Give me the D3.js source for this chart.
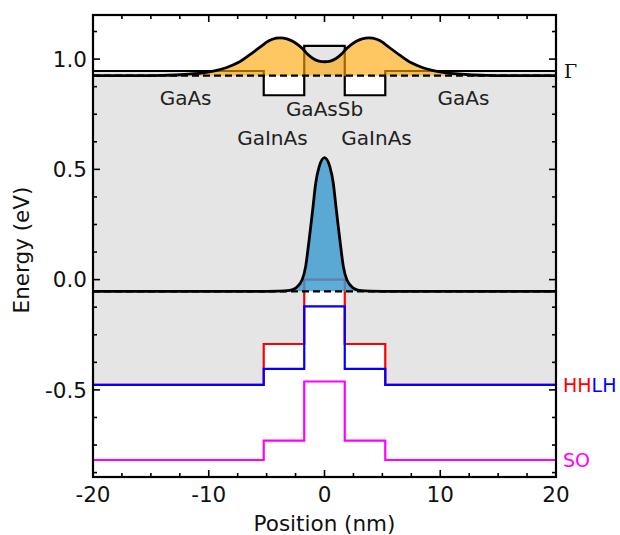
<!DOCTYPE html>
<html>
<head>
<meta charset="utf-8">
<script src="https://cdn.jsdelivr.net/npm/d3@7"></script>
<style>
  body { margin: 0; background: #fff; }
  svg { display: block; }
  text { font-family: "DejaVu Sans", sans-serif; }
</style>
</head>
<body>
<svg id="chart" width="620" height="535"></svg>
<script>
// ---- heterostructure layers (nm) and band edges (eV) ----
const layerEdges = [-20, -5.25, -1.75, 1.75, 5.25, 20];
const bandCB = [0.946, 0.836, 1.060, 0.836, 0.946];
const bandHH = [-0.477, -0.292, 0.000, -0.292, -0.477];
const bandLH = [-0.477, -0.405, -0.121, -0.405, -0.477];
const bandSO = [-0.818, -0.730, -0.462, -0.730, -0.818];

// ---- electron ground state: level and |psi|^2 offset ----
const electronLevel = 0.925;
const electronX = [-20, -16, -14, -12.5, -11.5, -10.5, -9.5, -8.5, -7.5, -6.5, -5.75, -5.25, -5.0, -4.5, -3.85, -3.25, -2.75, -2.25, -1.75, -1.5, -1.0, -0.5, 0,
                   0.5, 1.0, 1.5, 1.75, 2.25, 2.75, 3.25, 3.85, 4.5, 5.0, 5.25, 5.75, 6.5, 7.5, 8.5, 9.5, 10.5, 11.5, 12.5, 14, 16, 20];
const electronAmp = [0, 0.0005, 0.0015, 0.004, 0.008, 0.013, 0.022, 0.036, 0.058, 0.093, 0.122, 0.142, 0.152, 0.165, 0.171, 0.167, 0.156, 0.138, 0.114, 0.099, 0.078, 0.066, 0.063,
                     0.066, 0.078, 0.099, 0.114, 0.138, 0.156, 0.167, 0.171, 0.165, 0.152, 0.142, 0.122, 0.093, 0.058, 0.036, 0.022, 0.013, 0.008, 0.004, 0.0015, 0.0005, 0];

// ---- heavy-hole ground state ----
const holeLevel = -0.053;
const holeX = [-20, -6, -4, -3, -2.5, -1.94, -1.63, -1.40, -1.19, -0.99, -0.76, -0.46, 0,
               0.46, 0.76, 0.99, 1.19, 1.40, 1.63, 1.94, 2.5, 3, 4, 6, 20];
const holeAmp = [0, 0, 0.001, 0.004, 0.014, 0.051, 0.112, 0.202, 0.293, 0.384, 0.49, 0.565, 0.606,
                 0.565, 0.49, 0.384, 0.293, 0.202, 0.112, 0.051, 0.014, 0.004, 0.001, 0, 0];

// ---- layer names (placed at position / energy) ----
const layerLabels = ["GaAs", "GaAsSb", "GaInAs", "GaInAs", "GaAs"];
const layerLabelX = [-12, 0, -4.5, 4.5, 12];
const layerLabelE = [0.792, 0.742, 0.610, 0.610, 0.792];

// ---- axis ticks ----
const xTicks = [-20, -10, 0, 10, 20];
const xTickLabels = ["-20", "-10", "0", "10", "20"];
const xMinor = [-17.5, -15, -12.5, -7.5, -5, -2.5, 2.5, 5, 7.5, 12.5, 15, 17.5];
const yTicks = [-0.5, 0, 0.5, 1.0];
const yTickLabels = ["-0.5", "0.0", "0.5", "1.0"];
const yMinor = [-0.875, -0.75, -0.625, -0.375, -0.25, -0.125, 0.125, 0.25, 0.375, 0.625, 0.75, 0.875, 1.125];

const svg = d3.select("#chart");
const L = 93, R = 556, T = 15, B = 477;
const x = d3.scaleLinear().domain([-20, 20]).range([L, R]);
const y = d3.scaleLinear().domain([-0.895, 1.2]).range([B, T]);

svg.append("defs").append("clipPath").attr("id", "plotClip")
  .append("rect").attr("x", L).attr("y", T).attr("width", R - L).attr("height", B - T);
const plot = svg.append("g").attr("clip-path", "url(#plotClip)");

// step profile of a band from per-layer values
function steps(vals) {
  const pts = [];
  vals.forEach((v, i) => {
    pts.push({ x: layerEdges[i], v });
    pts.push({ x: layerEdges[i + 1], v });
  });
  return pts;
}

// band gap shading between the top valence edge and the conduction edge
const gapPts = [];
bandCB.forEach((c, i) => {
  gapPts.push({ x: layerEdges[i], lo: bandHH[i], hi: c });
  gapPts.push({ x: layerEdges[i + 1], lo: bandHH[i], hi: c });
});
plot.append("path").datum(gapPts)
  .attr("fill", "#e5e5e5")
  .attr("d", d3.area().x(d => x(d.x)).y0(d => y(d.lo)).y1(d => y(d.hi)));

const bandLine = d3.line().x(d => x(d.x)).y(d => y(d.v));
[[bandCB, "#000"], [bandHH, "#ff0000"], [bandLH, "#0000ff"], [bandSO, "#ff00ff"]].forEach(([vals, col]) => {
  plot.append("path").datum(steps(vals))
    .attr("fill", "none").attr("stroke", col).attr("stroke-width", 2.2)
    .attr("stroke-linejoin", "miter")
    .attr("d", bandLine);
});

// wavefunctions drawn on their energy levels
function wave(xs, amps, level, fill, alpha) {
  const pts = xs.map((xv, i) => ({ x: xv, a: amps[i] }));
  plot.append("path").datum(pts)
    .attr("fill", fill).attr("fill-opacity", alpha)
    .attr("d", d3.area().curve(d3.curveMonotoneX)
      .x(d => x(d.x)).y0(y(level)).y1(d => y(level + d.a)));
  plot.append("line")
    .attr("x1", x(-20)).attr("x2", x(20))
    .attr("y1", y(level)).attr("y2", y(level))
    .attr("stroke", "#000").attr("stroke-width", 2.2).attr("stroke-dasharray", "7,4");
  plot.append("path").datum(pts)
    .attr("fill", "none").attr("stroke", "#000").attr("stroke-width", 2.8)
    .attr("d", d3.line().curve(d3.curveMonotoneX).x(d => x(d.x)).y(d => y(level + d.a)));
}
wave(electronX, electronAmp, electronLevel, "#ffa500", 0.62);
wave(holeX, holeAmp, holeLevel, "#3a9bd0", 0.82);

// layer names
layerLabels.forEach((t, i) => {
  svg.append("text")
    .attr("x", x(layerLabelX[i])).attr("y", y(layerLabelE[i]))
    .attr("text-anchor", "middle").attr("font-size", 20).attr("fill", "#222")
    .text(t);
});

// frame
svg.append("rect").attr("x", L).attr("y", T).attr("width", R - L).attr("height", B - T)
  .attr("fill", "none").attr("stroke", "#000").attr("stroke-width", 2.2);

// ticks on all four sides, pointing inward
const tickG = svg.append("g").attr("stroke", "#000").attr("stroke-width", 1.6);
function xTick(v, len) {
  tickG.append("line").attr("x1", x(v)).attr("x2", x(v)).attr("y1", B).attr("y2", B - len);
  tickG.append("line").attr("x1", x(v)).attr("x2", x(v)).attr("y1", T).attr("y2", T + len);
}
function yTick(v, len) {
  tickG.append("line").attr("x1", L).attr("x2", L + len).attr("y1", y(v)).attr("y2", y(v));
  tickG.append("line").attr("x1", R).attr("x2", R - len).attr("y1", y(v)).attr("y2", y(v));
}
xTicks.forEach(v => xTick(v, 7));
xMinor.forEach(v => xTick(v, 4));
yTicks.forEach(v => yTick(v, 7));
yMinor.forEach(v => yTick(v, 4));

xTicks.forEach((v, i) => {
  svg.append("text").attr("x", x(v)).attr("y", 502)
    .attr("text-anchor", "middle").attr("font-size", 21.5).attr("fill", "#111")
    .text(xTickLabels[i]);
});
yTicks.forEach((v, i) => {
  svg.append("text").attr("x", L - 6).attr("y", y(v)).attr("dy", "0.36em")
    .attr("text-anchor", "end").attr("font-size", 21.5).attr("fill", "#111")
    .text(yTickLabels[i]);
});

// axis titles
svg.append("text").attr("x", (L + R) / 2).attr("y", 531)
  .attr("text-anchor", "middle").attr("font-size", 21.5).attr("fill", "#111")
  .text("Position (nm)");
svg.append("text").attr("transform", `translate(29,${(T + B) / 2 + 4}) rotate(-90)`)
  .attr("text-anchor", "middle").attr("font-size", 21.5).attr("fill", "#111")
  .text("Energy (eV)");

// band names at the right edge
svg.append("text").attr("x", R + 8).attr("y", y(bandCB[4])).attr("dy", "0.36em")
  .style("font-family", "'DejaVu Serif', serif").attr("font-size", 19).attr("fill", "#111")
  .text("Γ");
const hl = svg.append("text").attr("x", R + 7).attr("y", y(bandHH[4])).attr("dy", "0.36em")
  .attr("font-size", 19);
hl.append("tspan").attr("fill", "#ff0000").text("HH");
hl.append("tspan").attr("fill", "#0000ff").text("LH");
svg.append("text").attr("x", R + 7).attr("y", y(bandSO[4])).attr("dy", "0.36em")
  .attr("font-size", 19).attr("fill", "#ff00ff")
  .text("SO");
</script>
</body>
</html>
